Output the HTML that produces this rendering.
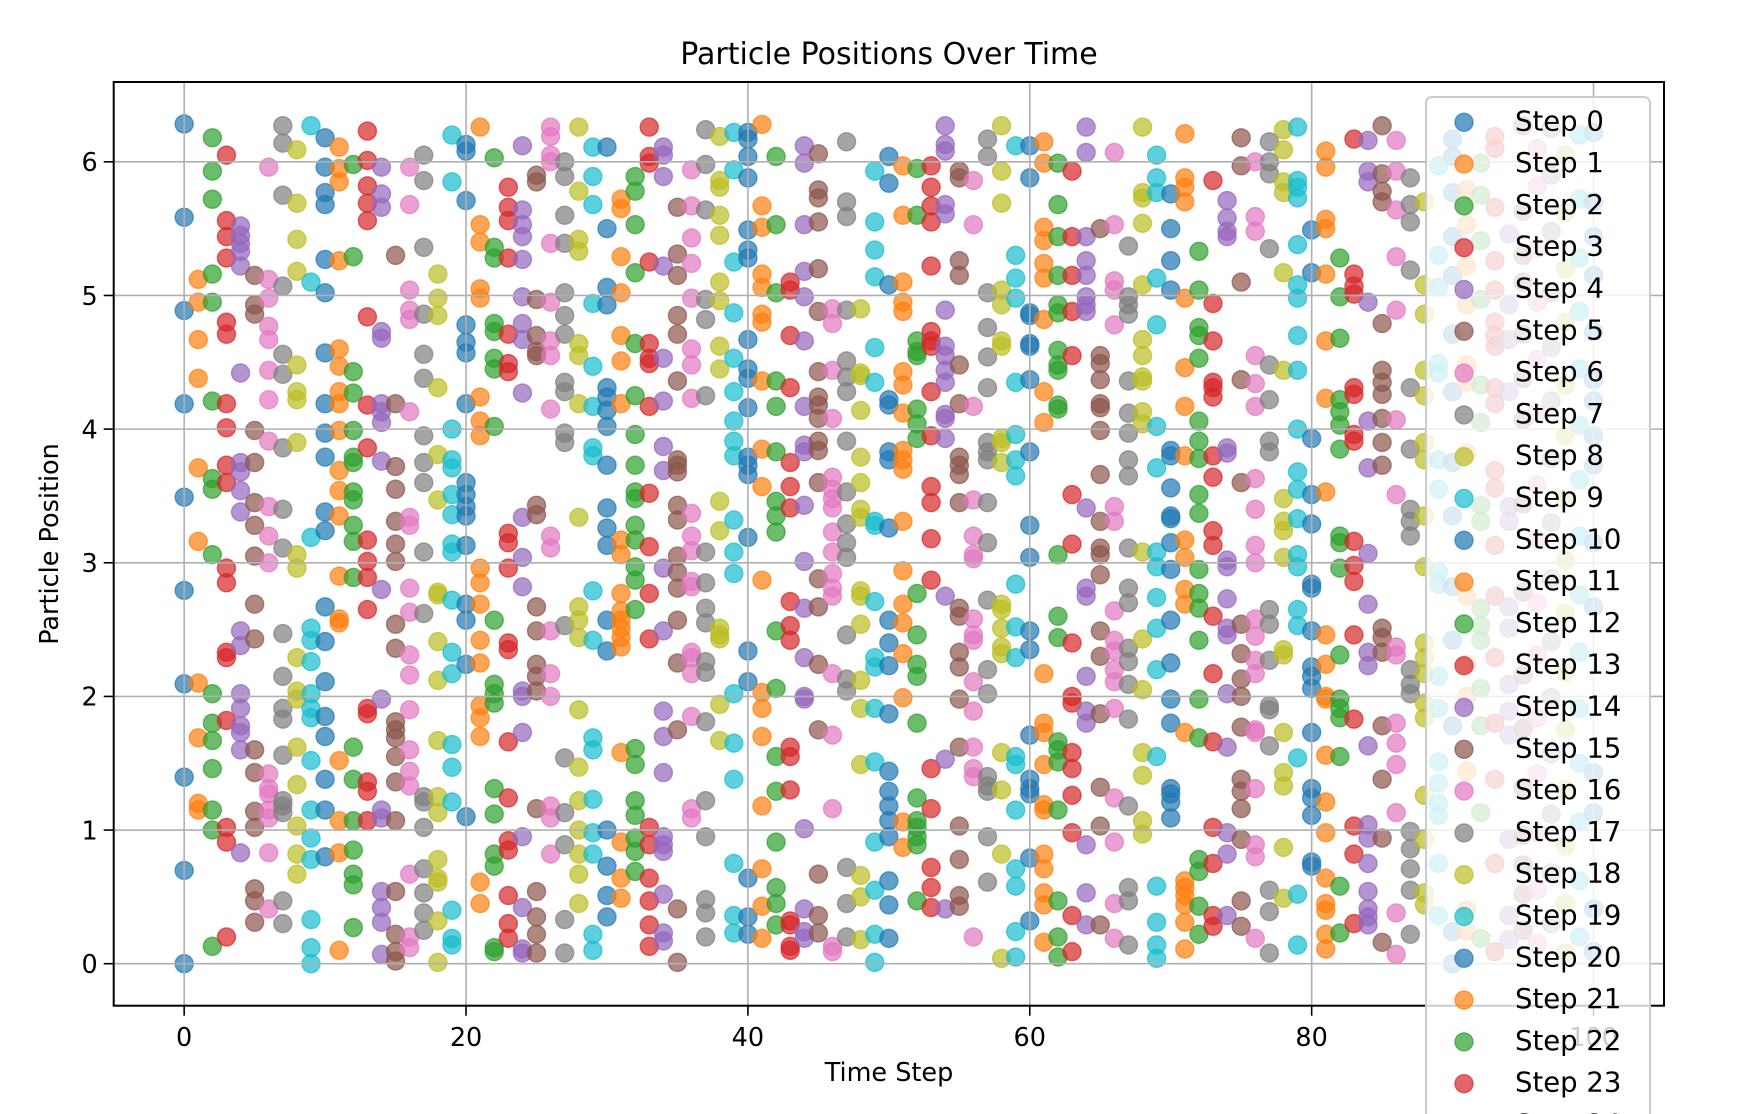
<!DOCTYPE html>
<html>
<head>
<meta charset="utf-8">
<style>
  html,body{margin:0;padding:0;background:#fff;width:1738px;height:1114px;overflow:hidden;}
  svg{display:block;font-family:"DejaVu Sans","Liberation Sans",sans-serif;}
</style>
</head>
<body>
<svg id="chart" width="1738" height="1114" viewBox="0 0 1738 1114" xmlns="http://www.w3.org/2000/svg" style="overflow:hidden">
  <rect x="0" y="0" width="1738" height="1114" fill="#ffffff"/>
  <text x="889" y="64" text-anchor="middle" font-size="30" fill="#000">Particle Positions Over Time</text>
  <text x="889" y="1081" text-anchor="middle" font-size="25.5" fill="#000">Time Step</text>
  <text x="0" y="0" transform="translate(58,544) rotate(-90)" text-anchor="middle" font-size="25.5" fill="#000">Particle Position</text>
  <g id="points"></g>
  <g id="grid"></g>
  <rect x="113.7" y="82" width="1550.3" height="923.7" fill="none" stroke="#000" stroke-width="2"/>
  <g id="xticks"></g>
  <g id="yticks"></g>
  <g id="legend"></g>
</svg>
<script>
const xTicks = [0, 20, 40, 60, 80, 100];
const yTicks = [0, 1, 2, 3, 4, 5, 6];
const palette = ["#1f77b4","#ff7f0e","#2ca02c","#d62728","#9467bd","#8c564b","#e377c2","#7f7f7f","#bcbd22","#17becf"];
const positions = [
[0,0.698,1.396,2.094,2.793,3.491,4.189,4.887,5.585,6.283],
[5.12,4.95,4.67,4.38,3.71,3.16,2.10,1.69,1.20,1.15],
[6.18,5.93,5.72,5.16,4.95,4.21,3.63,3.55,3.06,2.02,1.8,1.67,1.46,1.15,1.0,0.13],
[6.05,5.56,5.44,5.28,4.80,4.71,4.19,4.01,3.73,3.60,2.96,2.85,2.33,2.29,1.82,1.02,0.91,0.20],
[5.52,5.45,5.39,5.33,5.22,4.42,3.75,3.68,3.54,3.38,2.49,2.38,2.02,1.91,1.78,1.73,1.60,0.83],
[5.15,4.93,4.86,3.99,3.75,3.45,3.28,3.05,2.69,2.43,1.60,1.43,1.14,1.02,0.56,0.47,0.31],
[5.96,5.12,4.98,4.77,4.67,4.44,4.22,3.91,3.42,3.20,3.00,1.42,1.31,1.27,1.15,1.09,0.83,0.41],
[6.27,6.14,5.75,5.07,4.56,4.41,3.86,3.40,3.11,2.47,2.15,1.91,1.83,1.56,1.22,1.18,1.13,0.47,0.30],
[6.09,5.69,5.42,5.18,4.48,4.28,4.22,3.90,3.06,2.96,2.29,2.04,1.98,1.62,1.34,1.03,0.82,0.67],
[6.27,5.10,3.19,2.51,2.42,2.26,2.02,1.91,1.84,1.52,1.15,0.94,0.78,0.33,0.12,0.0],
[6.18,5.96,5.77,5.68,5.27,5.02,4.57,4.19,3.97,3.79,3.38,3.24,2.67,2.41,2.11,1.85,1.70,1.38,1.15,0.80],
[6.11,5.95,5.85,5.26,4.60,4.47,4.28,4.19,3.99,3.69,3.54,3.35,2.90,2.58,2.55,1.52,1.07,0.83,0.10],
[5.98,5.29,4.43,4.27,3.99,3.79,3.75,3.53,3.47,3.28,3.16,2.89,1.62,1.38,1.07,0.85,0.67,0.59,0.27],
[6.23,6.01,5.82,5.69,5.56,4.84,4.18,3.86,3.17,3.01,2.89,2.65,1.91,1.87,1.36,1.29,1.07],
[5.96,5.76,5.66,4.73,4.68,4.19,4.13,4.05,3.76,2.80,1.98,1.15,1.09,0.54,0.42,0.31,0.07],
[5.30,4.19,3.72,3.55,3.31,3.14,3.01,2.54,2.36,1.81,1.75,1.69,1.55,1.36,1.07,0.54,0.22,0.09,0.02],
[5.96,5.68,5.04,4.89,4.82,4.13,3.34,3.28,2.81,2.63,2.31,2.16,1.90,1.60,1.44,1.33,0.67,0.20,0.12],
[6.05,5.86,5.36,4.86,4.56,4.38,3.95,3.75,3.60,3.08,2.62,1.25,1.21,1.02,0.71,0.53,0.38,0.25],
[5.16,4.98,4.85,4.31,3.81,3.47,2.78,2.76,2.41,2.12,1.67,1.25,1.13,0.78,0.64,0.61,0.32,0.01],
[6.20,5.85,4.00,3.77,3.71,3.51,3.36,3.14,3.08,2.72,2.33,2.17,1.64,1.47,1.21,0.40,0.19,0.14],
[6.13,6.08,5.71,4.78,4.65,4.57,4.19,3.60,3.51,3.42,3.35,3.13,2.69,2.57,2.24,1.10],
[6.26,5.53,5.40,5.05,4.98,4.24,4.06,3.95,2.96,2.85,2.69,2.42,2.25,1.93,1.84,1.70,0.61,0.45],
[6.03,5.36,5.28,4.79,4.73,4.53,4.45,4.02,2.57,2.09,2.02,1.95,1.31,1.12,0.82,0.73,0.12,0.09],
[5.81,5.66,5.56,5.28,4.71,4.49,4.43,3.22,3.15,2.96,2.40,2.35,1.66,1.24,0.92,0.85,0.51,0.30,0.19],
[6.12,5.64,5.53,5.44,5.27,4.99,4.79,4.67,4.27,3.34,3.04,2.82,2.04,2.00,1.73,0.95,0.42,0.11,0.08],
[5.90,5.85,4.97,4.70,4.58,4.55,3.43,3.36,2.67,2.49,2.24,2.15,2.04,1.16,0.54,0.35,0.22,0.08],
[6.26,6.19,6.05,6.00,5.39,4.95,4.66,4.55,4.15,3.20,3.11,2.49,2.17,2.00,1.18,1.09,0.82],
[6.00,5.89,5.60,5.39,5.02,4.85,4.71,4.35,4.28,3.97,3.90,2.53,1.54,1.13,0.89,0.33,0.08],
[6.26,5.78,5.42,5.33,4.64,4.55,4.19,3.34,2.67,2.57,2.44,1.90,1.47,1.22,1.00,0.82,0.67,0.45],
[6.11,5.89,5.68,4.94,4.47,4.17,3.86,3.80,2.79,2.42,1.69,1.60,1.23,0.98,0.82,0.22,0.10],
[6.11,5.50,5.06,4.93,4.31,4.24,4.14,4.02,3.73,3.41,3.26,3.13,2.57,2.34,1.00,0.73,0.51,0.35],
[5.72,5.65,5.29,5.02,4.70,4.51,4.19,3.17,3.06,2.77,2.64,2.57,2.51,2.44,2.37,1.58,0.91,0.64,0.49],
[5.89,5.78,5.53,5.17,4.64,4.25,3.96,3.73,3.53,3.48,3.28,3.17,2.97,2.87,2.65,1.61,1.49,1.22,1.11,0.94,0.84,0.69],
[6.26,6.04,5.99,5.25,4.64,4.53,4.49,4.17,3.52,3.12,2.77,2.43,1.02,0.89,0.64,0.47,0.29,0.13],
[6.11,6.05,5.89,5.22,4.53,4.21,3.87,3.69,2.96,2.49,1.89,1.70,1.43,0.95,0.89,0.84,0.52,0.23,0.17],
[5.66,5.31,5.15,4.85,4.71,4.36,3.77,3.73,3.68,3.43,3.32,3.05,2.93,2.81,2.57,2.25,1.75,0.41,0.01],
[5.94,5.67,5.43,5.24,4.98,4.60,4.48,4.23,3.37,3.20,3.09,2.86,2.82,2.33,2.29,2.17,1.85,1.16,1.09],
[6.24,5.98,5.64,4.97,4.82,4.25,3.08,2.85,2.66,2.55,2.26,2.18,1.81,1.22,0.95,0.48,0.38,0.20],
[6.19,5.86,5.81,5.60,5.45,5.10,4.96,4.62,4.45,3.46,3.24,2.51,2.46,2.43,1.94,1.67],
[6.22,5.94,5.25,4.87,4.53,4.28,4.06,3.91,3.80,3.32,3.08,2.92,2.02,1.65,1.38,0.75,0.36,0.23],
[6.22,6.17,6.04,5.88,5.49,5.34,5.28,4.67,4.45,4.38,4.16,3.79,3.73,3.66,3.19,2.34,2.11,0.64,0.35,0.22],
[6.28,5.67,5.51,5.16,5.06,4.86,4.80,4.36,3.85,3.57,2.87,2.03,1.91,1.70,1.18,0.71,0.43,0.19],
[6.04,5.53,5.02,4.36,4.17,3.83,3.46,3.35,3.23,2.49,2.06,1.55,1.29,0.91,0.57,0.45,0.29],
[5.10,5.04,4.70,4.31,3.75,3.57,3.41,2.71,2.53,2.42,1.62,1.55,1.30,0.32,0.29,0.13,0.10],
[6.12,5.99,5.53,5.18,4.99,4.66,4.17,3.88,3.83,3.43,3.01,2.66,2.29,2.00,1.98,1.01,0.41,0.24,0.19],
[6.06,5.79,5.73,5.55,5.20,4.88,4.43,4.24,4.18,4.08,3.91,3.84,3.60,2.88,2.67,2.24,1.75,0.67,0.36,0.23],
[4.90,4.79,4.44,4.08,3.64,3.55,3.48,3.41,3.23,3.08,2.92,2.81,2.75,2.17,1.71,1.16,0.13,0.09],
[6.15,5.70,5.59,4.89,4.51,4.39,4.28,3.91,3.53,3.29,3.15,3.04,2.46,2.13,2.04,0.72,0.45,0.20],
[4.90,4.42,4.40,4.14,3.79,3.60,3.40,3.34,2.79,2.75,2.54,2.12,1.91,1.49,0.66,0.50,0.18],
[5.93,5.55,5.34,5.14,4.61,4.35,3.31,3.28,2.71,2.29,2.22,1.91,1.51,0.91,0.55,0.22,0.01],
[6.04,5.84,5.08,4.22,4.18,3.83,3.77,3.26,2.57,2.40,2.23,1.87,1.44,1.29,1.18,1.07,0.95,0.62,0.44,0.19],
[5.97,5.60,5.10,4.95,4.88,4.43,4.33,4.12,3.84,3.77,3.70,3.31,2.94,2.69,2.55,2.32,1.99,1.06,0.87],
[5.95,5.60,4.66,4.58,4.55,4.15,4.04,3.93,2.77,2.46,2.24,2.15,1.80,1.24,1.07,1.02,0.95,0.89,0.47],
[5.97,5.81,5.67,5.55,5.22,4.73,4.66,4.62,4.28,3.95,3.57,3.45,3.18,2.87,1.46,1.16,0.72,0.57,0.42],
[6.27,6.13,6.08,5.68,5.61,4.89,4.62,4.55,4.44,4.35,4.11,4.08,3.93,2.75,1.53,0.41],
[5.93,5.88,5.26,5.15,4.48,4.19,3.79,3.73,3.66,3.45,2.66,2.60,2.33,2.22,1.98,1.62,1.03,0.78,0.51,0.43],
[5.86,5.53,4.17,3.47,3.20,3.06,3.03,2.58,2.46,2.42,2.11,1.89,1.62,1.46,1.40,0.20],
[6.17,6.04,5.02,4.76,4.54,4.31,3.90,3.83,3.77,3.45,3.15,2.72,2.20,2.02,1.40,1.33,1.29,0.95,0.61],
[6.27,5.93,5.69,5.04,4.93,4.66,4.62,3.93,3.90,3.75,2.69,2.65,2.51,2.37,2.32,1.58,1.30,0.82,0.04],
[6.12,5.30,5.13,4.98,4.35,3.96,3.77,3.65,2.84,2.52,2.29,1.55,1.49,1.15,0.71,0.58,0.24,0.05],
[6.12,5.88,4.87,4.85,4.64,4.62,4.37,3.83,3.28,3.04,2.49,2.35,1.71,1.38,1.31,1.27,0.79,0.32],
[6.15,5.99,5.51,5.41,5.24,5.13,4.82,4.28,4.05,2.17,1.80,1.73,1.49,1.19,1.15,0.82,0.71,0.53,0.44,0.16],
[5.99,5.68,5.44,5.15,4.93,4.87,4.59,4.48,4.44,4.18,4.15,3.06,2.60,2.44,1.66,1.60,1.51,1.15,0.47,0.20,0.05],
[5.93,5.44,5.15,4.88,4.55,3.51,3.14,2.40,2.00,1.95,1.58,1.46,1.26,0.98,0.36,0.09],
[6.26,6.07,5.44,5.26,5.15,4.99,4.93,4.88,3.41,2.81,2.75,2.15,1.89,1.80,0.89,0.53,0.29],
[5.50,4.55,4.49,4.37,4.19,4.16,3.99,3.66,3.31,3.11,3.06,2.91,2.49,2.30,1.87,1.32,1.03,0.29],
[6.07,5.53,5.11,5.04,4.78,3.42,3.31,2.64,2.42,2.34,2.20,2.11,1.91,1.24,0.91,0.45,0.19],
[5.37,4.99,4.93,4.86,4.36,4.12,3.97,3.77,3.65,3.11,2.81,2.70,2.36,2.26,2.09,1.83,1.18,0.57,0.47,0.14],
[6.26,5.77,5.73,5.54,5.08,4.67,4.55,4.39,4.36,4.13,4.04,3.08,2.43,2.05,1.58,1.41,1.07,0.97],
[6.05,5.88,5.77,5.13,4.78,4.02,3.71,3.08,2.97,2.74,2.51,2.20,1.55,0.58,0.31,0.14,0.04],
[5.76,5.50,5.26,5.04,3.84,3.80,3.56,3.35,3.33,3.15,2.95,2.57,2.25,1.98,1.80,1.31,1.27,1.21,1.09],
[6.21,5.88,5.81,5.70,4.98,4.46,4.17,3.80,3.17,3.04,2.80,2.69,1.73,0.62,0.57,0.51,0.44,0.31,0.11],
[5.33,5.04,4.76,4.70,4.53,4.06,3.91,3.78,3.51,3.37,2.95,2.77,2.66,2.42,1.98,1.69,0.78,0.69,0.43,0.22],
[5.86,4.94,4.66,4.35,4.31,4.24,3.80,3.64,3.24,3.13,2.60,2.17,1.66,1.02,0.75,0.36,0.28],
[5.71,5.58,5.48,5.44,3.86,3.82,3.02,2.97,2.73,2.51,2.46,2.02,1.62,0.98,0.82,0.36],
[6.18,5.97,5.10,4.37,3.60,2.54,2.32,2.13,2.00,1.77,1.38,1.29,1.16,0.93,0.47,0.28],
[6.00,5.59,5.48,4.55,4.34,4.17,3.63,3.40,3.13,3.00,2.58,2.45,2.27,2.17,1.75,1.73,1.31,0.89,0.80,0.19],
[6.15,6.00,5.91,5.35,4.48,4.22,3.91,3.83,2.65,2.54,2.27,1.93,1.90,1.63,0.55,0.39,0.08],
[6.24,6.09,5.85,5.77,5.17,4.44,3.48,3.31,3.24,3.04,2.35,2.31,1.73,1.43,1.33,0.87,0.49],
[6.26,5.86,5.81,5.73,5.38,5.08,4.98,4.70,4.44,4.00,3.68,3.55,3.33,3.06,2.97,2.65,2.53,1.54,0.52,0.14],
[5.49,5.17,3.93,3.51,3.29,2.84,2.81,2.49,2.22,2.15,2.06,1.73,1.31,1.24,1.11,0.76,0.73],
[6.08,5.96,5.57,5.50,5.16,4.66,4.23,3.53,2.46,2.24,2.00,1.98,1.56,1.21,0.98,0.64,0.45,0.40,0.22,0.11],
[5.28,4.99,4.68,4.22,4.13,4.03,3.85,3.20,3.15,2.96,2.31,1.98,1.91,1.84,1.55,0.58,0.23],
[6.17,5.16,5.07,5.01,4.31,4.26,3.96,3.91,3.16,2.98,2.86,2.46,1.83,1.03,0.82,0.30],
[6.16,5.93,5.85,4.95,4.06,3.71,3.07,2.69,2.33,2.23,1.63,1.04,0.94,0.75,0.54,0.41,0.35,0.29],
[6.27,5.91,5.78,5.70,4.79,4.44,4.35,4.26,4.08,3.90,3.73,2.51,2.44,2.33,1.78,1.38,0.94,0.16],
[6.16,5.93,5.64,5.29,4.89,4.07,3.51,2.37,2.31,1.80,1.65,1.49,1.13,0.38,0.07],
[5.88,5.68,5.55,5.19,4.31,3.85,3.40,3.31,3.20,2.20,2.09,2.02,0.99,0.86,0.71,0.55,0.22],
[5.70,5.08,4.86,4.44,4.25,3.90,3.77,3.35,2.97,2.40,2.29,2.17,1.95,1.84,1.26,0.93,0.53,0.44],
[5.97,5.30,5.06,4.49,4.42,3.77,3.55,2.93,2.84,2.15,1.91,1.51,1.35,1.20,1.11,0.75,0.36],
[6.17,6.04,5.77,5.44,5.15,4.71,4.28,3.75,3.35,2.82,2.42,1.78,0.24,0.0],
[5.79,5.53,5.22,4.93,4.48,4.35,3.82,2.75,2.24,2.00,1.44,0.40,0.24],
[5.99,5.75,5.41,4.97,4.33,4.05,3.43,3.31,2.66,2.53,2.42,2.06,1.78,1.13,0.19],
[6.19,6.10,5.66,5.26,5.04,4.80,4.70,4.62,4.31,4.19,3.69,3.56,3.13,2.75,2.29,1.80,1.38,0.75,0.09],
[5.46,4.93,4.67,4.28,3.42,3.31,2.67,2.51,2.09,1.89,1.71,0.93,0.36,0.18],
[6.27,5.63,5.30,5.10,4.71,4.38,4.07,3.44,2.78,2.16,1.76,1.32,0.96,0.74,0.52,0.25],
[6.10,5.82,5.35,4.95,4.52,4.12,3.58,3.17,2.70,2.31,1.84,1.42,0.98,0.55,0.15],
[6.25,5.90,5.48,5.02,4.61,4.21,3.78,3.30,2.88,2.41,1.99,1.57,1.12,0.68,0.30],
[6.05,5.62,5.20,4.80,4.33,3.95,3.48,3.02,2.62,2.18,1.75,1.30,0.88,0.45,0.08],
[6.20,5.72,5.28,4.88,4.45,4.03,3.62,3.20,2.76,2.33,1.91,1.50,1.06,0.62,0.20],
[6.22,5.70,5.44,5.15,4.73,4.37,4.21,3.95,3.73,3.15,2.67,1.43,1.13,0.41,0.09]
];

const NS = "http://www.w3.org/2000/svg";
const plot = {left:113.7, top:82, right:1664, bottom:1005.7};
const xDomain = [-5, 105];
const yDomain = [-0.3142, 6.5973];
function xScale(v){ return plot.left + (v - xDomain[0]) / (xDomain[1]-xDomain[0]) * (plot.right-plot.left); }
function yScale(v){ return plot.bottom - (v - yDomain[0]) / (yDomain[1]-yDomain[0]) * (plot.bottom-plot.top); }
function mk(tag, attrs){ const e=document.createElementNS(NS,tag); for(const k in attrs) e.setAttribute(k, attrs[k]); return e; }

const gPts = document.getElementById('points');
positions.forEach((vals, step) => {
  const col = palette[step % 10];
  const g = mk('g', {});
  
  
  vals.forEach(v => {
    const c = mk('circle', {cx:xScale(step), cy:yScale(v), r:9, fill:col, 'fill-opacity':0.7, stroke:col, 'stroke-opacity':0.7, 'stroke-width':1.4});
    
    
    g.appendChild(c);
  });
  gPts.appendChild(g);
});

const gGrid = document.getElementById('grid');
const gx = document.getElementById('xticks');
xTicks.forEach(t => {
  const x = xScale(t);
  const gl = mk('line', {x1:x, x2:x, y1:plot.top, y2:plot.bottom, stroke:'#b0b0b0', 'stroke-width':1.6});
  
  
  gGrid.appendChild(gl);
  const tk = mk('line', {x1:x, x2:x, y1:plot.bottom, y2:plot.bottom+10, stroke:'#000', 'stroke-width':1.6});
  
  
  gx.appendChild(tk);
  const lb = mk('text', {x:x, y:1046, 'text-anchor':'middle', 'font-size':25.5, fill:'#000'});
  lb.textContent = String(t);
  
  
  gx.appendChild(lb);
});
const gy = document.getElementById('yticks');
yTicks.forEach(t => {
  const y = yScale(t);
  const gl = mk('line', {x1:plot.left, x2:plot.right, y1:y, y2:y, stroke:'#b0b0b0', 'stroke-width':1.6});
  
  
  gGrid.appendChild(gl);
  const tk = mk('line', {x1:plot.left-10, x2:plot.left, y1:y, y2:y, stroke:'#000', 'stroke-width':1.6});
  
  
  gy.appendChild(tk);
  const lb = mk('text', {x:plot.left-16, y:y+9.3, 'text-anchor':'end', 'font-size':25.5, fill:'#000'});
  lb.textContent = String(t);
  
  
  gy.appendChild(lb);
});

const gLeg = document.getElementById('legend');
const box = mk('rect', {x:1426, y:97, width:224, height:1030, rx:6, ry:6, fill:'#ffffff', 'fill-opacity':0.8, stroke:'#cccccc', 'stroke-width':2});


gLeg.appendChild(box);
positions.forEach((vals, step) => {
  const cy = 122.3 + step*41.8;
  if (cy > 1140) return;
  const col = palette[step % 10];
  const ent = mk('g', {});
  
  
  const c = mk('circle', {cx:1464, cy:cy, r:9, fill:col, 'fill-opacity':0.7, stroke:col, 'stroke-opacity':0.7, 'stroke-width':1.4});
  
  
  ent.appendChild(c);
  const t = mk('text', {x:1515, y:cy+8, 'font-size':27.5, fill:'#000'});
  t.textContent = 'Step ' + step;
  
  
  ent.appendChild(t);
  gLeg.appendChild(ent);
});
</script>
</body>
</html>
